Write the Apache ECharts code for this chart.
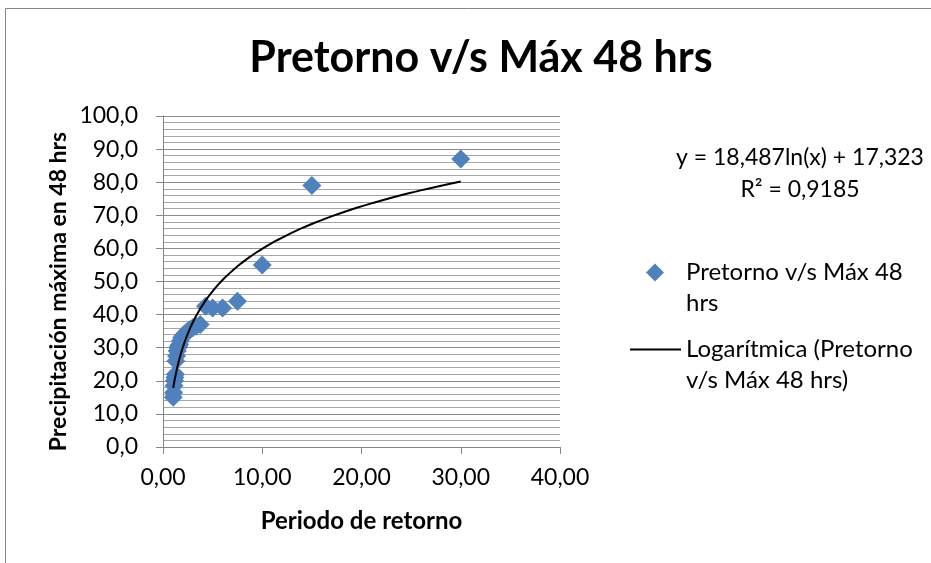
<!DOCTYPE html>
<html>
<head>
<meta charset="utf-8">
<script src="https://cdn.jsdelivr.net/npm/echarts@6/dist/echarts.min.js"></script>
<style>
  html, body { margin: 0; padding: 0; background: #fff; }
  #chart { width: 931px; height: 563px; }
</style>
</head>
<body>
<div id="chart"></div>
<script>
// Return period (years) for each ranked 48-hour maximum
const periodoRetorno = [30, 15, 10, 7.5, 6, 5, 4.29, 3.75, 3.33, 3, 2.73, 2.5, 2.31, 2.14, 2,
  1.88, 1.76, 1.67, 1.58, 1.5, 1.43, 1.36, 1.3, 1.25, 1.2, 1.15, 1.11, 1.07, 1.03];
// Maximum 48-hour precipitation (mm)
const precipMax48 = [87, 79, 55, 44, 42, 42, 42.5, 37, 36.5, 36, 35.5, 35, 34.5, 34, 33.5,
  33, 32, 31, 30.5, 30, 29, 27.5, 26, 22, 21, 20, 18.5, 16.5, 15];

// Logarithmic trend: y = a ln(x) + b
const trendA = 18.487;
const trendB = 17.323;
const trendR2 = 0.9185;

const xTicks = [0, 10, 20, 30, 40];
const yTicks = [0, 10, 20, 30, 40, 50, 60, 70, 80, 90, 100];

const FONT = 'Lato';
const serieName = 'Pretorno v/s Máx 48 hrs';
const trendName = 'Logarítmica (Pretorno v/s Máx 48 hrs)';

const fmt = (v, d) => v.toFixed(d).replace('.', ',');

// trend curve over the observed range of return periods
const xMin = Math.min(...periodoRetorno), xMax = Math.max(...periodoRetorno);
const trendPts = [];
const steps = 120;
for (let i = 0; i <= steps; i++) {
  const x = xMin * Math.pow(xMax / xMin, i / steps);
  trendPts.push([x, trendA * Math.log(x) + trendB]);
}

const chart = echarts.init(document.getElementById('chart'), null, { renderer: 'canvas' });
chart.setOption({
  animation: false,
  backgroundColor: '#fff',
  title: {
    text: 'Pretorno v/s Máx 48 hrs',
    left: 476, top: 32, textAlign: 'center',
    textStyle: { fontFamily: FONT, fontWeight: 'bold', fontSize: 43, color: '#000' }
  },
  grid: { left: 163, right: 371, top: 116, bottom: 116 },
  xAxis: {
    type: 'value', min: xTicks[0], max: xTicks[xTicks.length - 1], interval: 10,
    name: 'Periodo de retorno', nameLocation: 'middle', nameGap: 62,
    nameTextStyle: { fontFamily: FONT, fontWeight: 'bold', fontSize: 24, color: '#000' },
    axisLine: { lineStyle: { color: '#868686', width: 1 } },
    axisTick: { show: true, inside: false, length: 7, lineStyle: { color: '#868686' } },
    axisLabel: { margin: 19, fontFamily: FONT, fontSize: 23, color: '#000', formatter: v => fmt(v, 2) },
    splitLine: { show: false }
  },
  yAxis: {
    type: 'value', min: yTicks[0], max: yTicks[yTicks.length - 1], interval: 10,
    name: 'Precipitación máxima en 48 hrs', nameLocation: 'middle', nameGap: 93,
    nameTextStyle: { fontFamily: FONT, fontWeight: 'bold', fontSize: 23, color: '#000', padding: [0, 20, 0, 0] },
    axisLine: { show: true, lineStyle: { color: '#868686', width: 1 } },
    axisTick: { show: true, inside: false, length: 7, lineStyle: { color: '#868686' } },
    axisLabel: { margin: 25, fontFamily: FONT, fontSize: 23, color: '#000', formatter: v => fmt(v, 1) },
    splitLine: { show: true, lineStyle: { color: '#8c8c8c', width: 1 } },
    minorTick: { show: false, splitNumber: 5 },
    minorSplitLine: { show: true, lineStyle: { color: '#a6a6a6', width: 1 } }
  },
  legend: [
    {
      data: [{ name: serieName, icon: 'diamond' }],
      left: 641, top: 221, itemWidth: 18, itemHeight: 18, itemGap: 0,
      formatter: () => '\nPretorno v/s Máx 48\nhrs',
      textStyle: { fontFamily: FONT, fontSize: 24, color: '#000', lineHeight: 31, padding: [0, 0, 0, 17] }
    },
    {
      data: [{ name: trendName, icon: 'rect', itemStyle: { color: '#000' } }],
      left: 625, top: 298, itemWidth: 51, itemHeight: 2, itemGap: 0,
      formatter: () => '\nLogarítmica (Pretorno\nv/s Máx 48 hrs)',
      textStyle: { fontFamily: FONT, fontSize: 24, color: '#000', lineHeight: 31, padding: [0, 0, 0, 0] }
    }
  ],
  graphic: [
    {
      type: 'rect', silent: true, z: -10,
      shape: { x: 5.5, y: 8.5, width: 1000, height: 1000 },
      style: { fill: 'none', stroke: '#868686', lineWidth: 1 }
    },
    {
      type: 'text',
      style: {
        text: 'y = ' + fmt(trendA, 3) + 'ln(x) + ' + fmt(trendB, 3),
        x: 800, y: 158, align: 'center', verticalAlign: 'middle',
        fontFamily: FONT, fontSize: 23, fill: '#000'
      }
    },
    {
      type: 'text',
      style: {
        text: 'R² = ' + fmt(trendR2, 4),
        x: 800, y: 190, align: 'center', verticalAlign: 'middle',
        fontFamily: FONT, fontSize: 23, fill: '#000'
      }
    }
  ],
  series: [
    {
      name: serieName, type: 'scatter', symbol: 'diamond', symbolSize: 19,
      itemStyle: { color: '#4f81bd', opacity: 1 },
      data: periodoRetorno.map((x, i) => [x, precipMax48[i]]), z: 3
    },
    {
      name: trendName, type: 'line', symbol: 'none', showSymbol: false, smooth: false,
      lineStyle: { color: '#000', width: 2 }, itemStyle: { color: '#000' },
      data: trendPts, z: 4
    }
  ]
});
</script>
</body>
</html>
